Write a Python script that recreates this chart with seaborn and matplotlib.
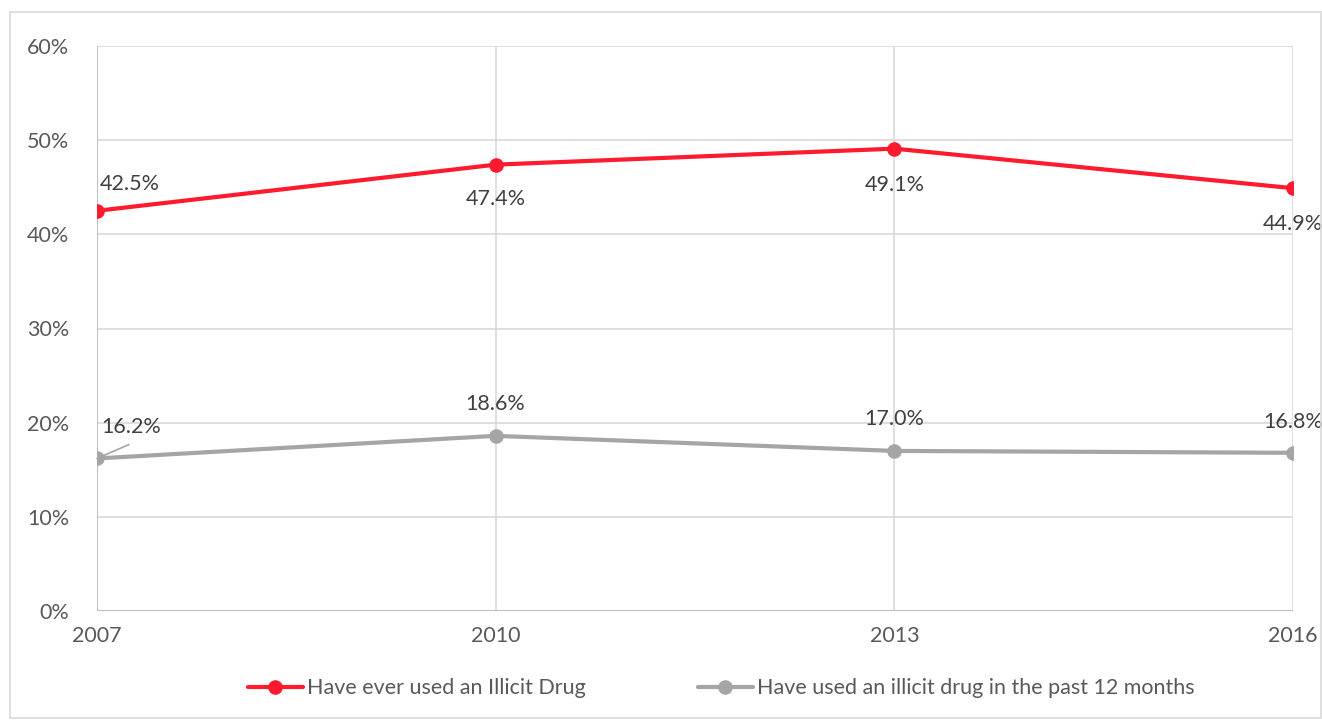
import pandas as pd
import matplotlib.pyplot as plt
import seaborn as sns
from matplotlib.patches import Rectangle
from matplotlib.ticker import PercentFormatter

years = [2007, 2010, 2013, 2016]
ever_used = [42.5, 47.4, 49.1, 44.9]
past_12_months = [16.2, 18.6, 17.0, 16.8]
series_names = ["Have ever used an Illicit Drug",
                "Have used an illicit drug in the past 12 months"]
y_ticks = [0, 10, 20, 30, 40, 50, 60]

RED = "#FF1A2E"
GRAY = "#A5A5A5"
TEXT = "#404040"
TICK = "#595959"
FS = 15.5

df = pd.DataFrame({
    "year": years * 2,
    "value": ever_used + past_12_months,
    "series": [series_names[0]] * 4 + [series_names[1]] * 4,
})

sns.set_style("white")
plt.rcParams["font.family"] = ["Lato", "DejaVu Sans"]

fig = plt.figure(figsize=(13.22, 7.2), dpi=100)
ax = fig.add_axes([97 / 1322, 1 - 611 / 720, 1196 / 1322, 565 / 720])

# outer chart border
fig.patches.append(Rectangle((10 / 1322, 2 / 720), 1311 / 1322, 706 / 720,
                             transform=fig.transFigure, fill=False,
                             edgecolor="#D9D9D9", linewidth=1.2))

sns.lineplot(data=df, x="year", y="value", hue="series",
             palette=[RED, GRAY], marker="o", markersize=10.5,
             markeredgewidth=0, linewidth=3, ax=ax)

ax.set_xlim(2007, 2016)
ax.set_ylim(0, 60)
ax.set_xticks(years)
ax.set_yticks(y_ticks)
ax.yaxis.set_major_formatter(PercentFormatter(decimals=0))
ax.grid(True, color="#D9D9D9", linewidth=1.2)
ax.set_axisbelow(True)
for s in ax.spines.values():
    s.set_visible(False)
ax.tick_params(length=0, labelsize=FS, colors=TICK)
ax.tick_params(axis="x", pad=11)
ax.tick_params(axis="y", pad=20)
ax.set_xlabel("")
ax.set_ylabel("")
ax.axvline(2007, color="#BFBFBF", linewidth=1.5, zorder=1)
ax.axhline(0, color="#BFBFBF", linewidth=1.5, zorder=1)

# data labels (offsets in points)
red_offsets = [(2, 19), (0, -25), (0, -26), (0, -26)]
red_ha = ["left", "center", "center", "center"]
for x, v, off, ha in zip(years, ever_used, red_offsets, red_ha):
    ax.annotate(f"{v:.1f}%", (x, v), xytext=off, textcoords="offset points",
                ha=ha, va="center", fontsize=FS, color=TEXT)

gray_offsets = [(3, 23), (0, 23), (0, 23), (0, 22)]
gray_ha = ["left", "center", "center", "center"]
for x, v, off, ha in zip(years, past_12_months, gray_offsets, gray_ha):
    ax.annotate(f"{v:.1f}%", (x, v), xytext=off, textcoords="offset points",
                ha=ha, va="center", fontsize=FS, color=TEXT)
# leader line for 2007 grey label
ax.annotate("", (years[0], past_12_months[0]), xytext=(23, 10),
            textcoords="offset points",
            arrowprops=dict(arrowstyle="-", color=GRAY, linewidth=1.2,
                            shrinkA=0, shrinkB=0))

ax.legend(loc="upper center", bbox_to_anchor=(0.522, -0.085), ncol=2,
          frameon=False, fontsize=FS, handlelength=2.55, handletextpad=0.2,
          columnspacing=5.2, labelcolor=TICK)

fig.savefig("out.png", dpi=100)
